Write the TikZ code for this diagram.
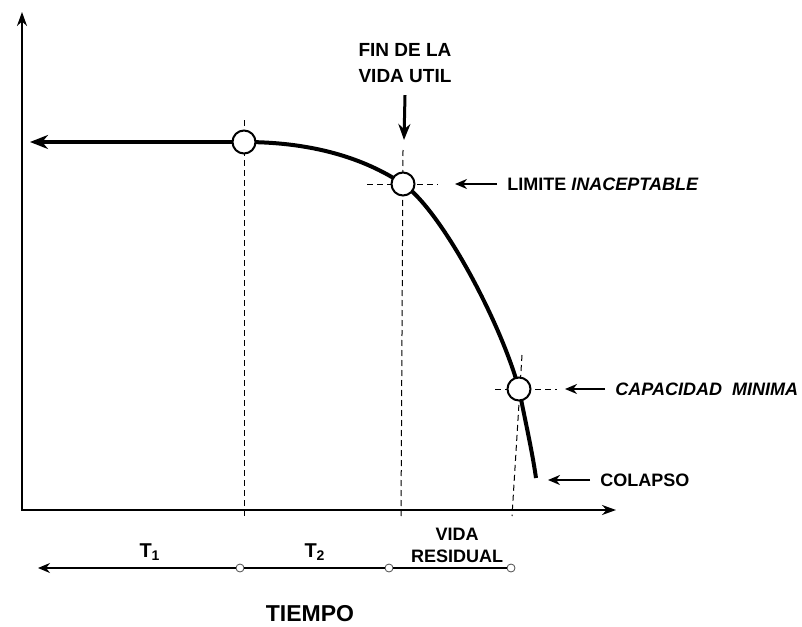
\documentclass[tikz,border=0pt]{standalone}
\usepackage{fontspec}
\setmainfont{Liberation Sans}
\usetikzlibrary{arrows.meta}
\begin{document}
\begin{tikzpicture}[x=0.5pt, y=-0.5pt, font=\bfseries\fontsize{9}{11}\selectfont,
		punto/.style={circle, draw, line width=1pt, fill=white, minimum size=11.5pt, inner sep=0pt},
		puntito/.style={circle, draw=black!70, line width=0.4pt, fill=white, minimum size=4pt, inner sep=0pt},
		eje/.style={line width=1pt},
		curva/.style={line width=2pt},
		guia/.style={line width=0.5pt, dash pattern=on 3pt off 2pt},
		flecha/.style={line width=1pt, -{Stealth[length=6pt, width=5pt]}},
		etiqueta/.style={anchor=west, inner xsep=5pt, inner ysep=0pt}]
		\useasboundingbox (0,0) rectangle (802,626);

		\coordinate (ytop) at (22,12);
		\coordinate (o) at (22,510);
		\coordinate (xend) at (616,510);
		\draw[eje, {Stealth[length=7pt, width=5pt]}-{Stealth[length=7pt, width=5pt]}] (ytop) -- (o) -- (xend);

		\draw[guia] (244,120) -- (244,518);
		\draw[guia] (403,150) -- (401,516);
		\draw[guia] (367,184) -- (438,184);
		\draw[guia] (522,355) -- (512,516);
		\draw[guia] (495,389) -- (557,389);

		\coordinate (p1) at (244,142);
		\coordinate (p2) at (403,184);
		\coordinate (p3) at (519,389);
		\coordinate (final) at (536,478);
		\coordinate (izq) at (30,142);
		\draw[curva] (p1) .. controls (320,142) and (370,162) .. (p2)
			.. controls (440,209) and (500,320) .. (p3)
			.. controls (525,420) and (532,450) .. (final);
		\draw[curva, -{Stealth[length=9pt, width=7pt]}] (p1) -- (izq);

		\node[punto] (c1) at (p1) {};
		\node[punto] (c2) at (p2) {};
		\node[punto] (c3) at (p3) {};

		\node[align=center, font=\bfseries\fontsize{9.5}{13}\selectfont, inner sep=0pt] (vidautil) at (405,63) {FIN DE LA\\VIDA UTIL};
		\coordinate (b1) at (404,140);
		\draw[line width=1.5pt, -{Stealth[length=8pt, width=6pt]}] (vidautil.south) ++(0,12) -- (b1);

		\node[etiqueta] (limite) at (497,184) {LIMITE \textit{INACEPTABLE}};
		\node[etiqueta] (capacidad) at (605,389) {\textit{CAPACIDAD\ \ MINIMA}};
		\node[etiqueta] (colapso) at (590,480) {COLAPSO};
		\draw[flecha] (limite.west) -- ++(-42,0);
		\draw[flecha] (capacidad.west) -- ++(-40,0);
		\draw[flecha] (colapso.west) -- ++(-42,0);

		\coordinate (t0) at (38,568);
		\node[puntito] (n1) at (240,568) {};
		\node[puntito] (n2) at (389,568) {};
		\node[puntito] (n3) at (511,568) {};
		\draw[line width=0.6pt, -{Stealth[length=6pt, width=5pt]}] (n3) -- (n2) -- (n1) -- (t0);

		\node[font=\bfseries\fontsize{10}{12}\selectfont] (t1) at (150,552) {T\textsubscript{1}};
		\node[font=\bfseries\fontsize{10}{12}\selectfont] (t2) at (315,552) {T\textsubscript{2}};
		\node[align=center, inner sep=0pt] (residual) at (457,545) {VIDA\\RESIDUAL};
		\node[font=\bfseries\fontsize{11.5}{14}\selectfont] (tiempo) at (310,614) {TIEMPO};
	\end{tikzpicture}
\end{document}
